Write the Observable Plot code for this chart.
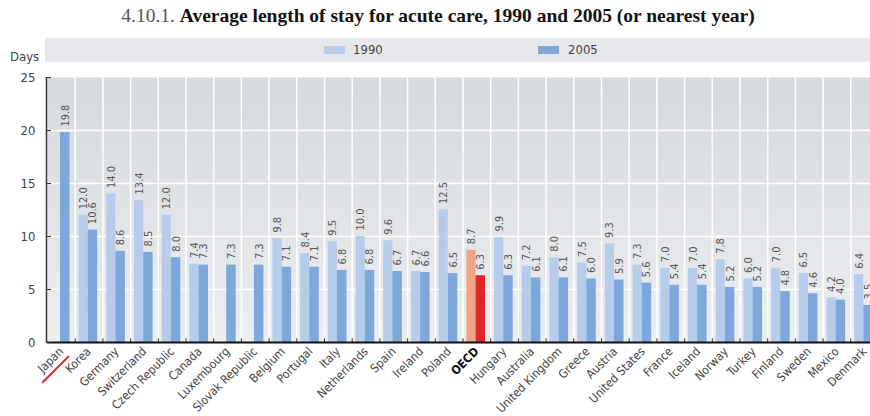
<!DOCTYPE html>
<html><head><meta charset="utf-8">
<script src="https://cdn.jsdelivr.net/npm/d3@7"></script>
<script src="https://cdn.jsdelivr.net/npm/@observablehq/plot@0.6"></script>
<style>
html,body{margin:0;padding:0;background:#fff;overflow:hidden;width:870px;height:416px;}
#wrap{position:relative;width:870px;height:416px;overflow:hidden;}
#title{position:absolute;left:0;width:876px;top:5px;text-align:center;font-family:"Liberation Serif",serif;font-size:19.5px;color:#111;white-space:nowrap;}
#title .num{font-weight:normal;color:#555;}
#title b{font-weight:bold;}
#legend{position:absolute;left:45px;top:38px;width:830px;height:24px;background:#e6e8eb;}
.sw{position:absolute;top:8px;width:21px;height:8px;}
.lt{position:absolute;top:4px;font-family:"DejaVu Sans",sans-serif;font-stretch:condensed;font-size:13px;color:#444;}
#days{position:absolute;left:10px;top:49px;font-family:"DejaVu Sans",sans-serif;font-stretch:condensed;font-size:13px;color:#444;}
#chart{position:absolute;left:0;top:62px;width:880px;}
#chart svg{max-width:none !important;}
#chart svg text{font-stretch:condensed;}
</style>
</head><body>
<div id="wrap">
  <div id="title"><span class="num">4.10.1.</span> <b>Average length of stay for acute care, 1990 and 2005 (or nearest year)</b></div>
  <div id="days">Days</div>
  <div id="legend"></div>
  <div id="chart"></div>
</div>
<script>
const countries = ["Japan","Korea","Germany","Switzerland","Czech Republic","Canada","Luxembourg","Slovak Republic","Belgium","Portugal","Italy","Netherlands","Spain","Ireland","Poland","OECD","Hungary","Australia","United Kingdom","Greece","Austria","United States","France","Iceland","Norway","Turkey","Finland","Sweden","Mexico","Denmark"];
const v1990 = [null,12.0,14.0,13.4,12.0,7.4,null,null,9.8,8.4,9.5,10.0,9.6,6.7,12.5,8.7,9.9,7.2,8.0,7.5,9.3,7.3,7.0,7.0,7.8,6.0,7.0,6.5,4.2,6.4];
const v2005 = [19.8,10.6,8.6,8.5,8.0,7.3,7.3,7.3,7.1,7.1,6.8,6.8,6.7,6.6,6.5,6.3,6.3,6.1,6.1,6.0,5.9,5.6,5.4,5.4,5.2,5.2,4.8,4.6,4.0,3.5];
const years = ["1990","2005"];
const yTicks = [0,5,10,15,20,25];
const colors = {"1990":"#b5cdea","2005":"#7ea8db"};
const oecdColors = {"1990":"#f0a386","2005":"#e0262b"};

const rows = [];
countries.forEach((c,i)=>{
  if (v1990[i] != null) rows.push({country:c, year:"1990", value:v1990[i]});
  if (v2005[i] != null) rows.push({country:c, year:"2005", value:v2005[i]});
});
const r1990 = rows.filter(d=>d.year==="1990");
const r2005 = rows.filter(d=>d.year==="2005");
const fillOf = d => d.country==="OECD" ? oecdColors[d.year] : colors[d.year];

// legend
const leg = document.getElementById("legend");
[[279,"1990",308],[493,"2005",523]].forEach(([x,y,tx])=>{
  const s=document.createElement("div"); s.className="sw"; s.style.left=x+"px"; s.style.background=colors[y]; leg.appendChild(s);
  const t=document.createElement("div"); t.className="lt"; t.style.left=tx+"px"; t.textContent=y; leg.appendChild(t);
});

const W = 878, ML = 47;
const bw = (W - ML) / countries.length;
const in1990 = [3.8, bw - 13];
const in2005 = [13, bw - 22.5];
const c1990 = (in1990[0] + (bw - in1990[1]))/2 - bw/2;
const c2005 = (in2005[0] + (bw - in2005[1]))/2 - bw/2;
const font = "'DejaVu Sans',sans-serif";

const chart = Plot.plot({
  width: W, height: 354,
  marginLeft: ML, marginRight: 0, marginTop: 15, marginBottom: 74,
  style: {fontFamily: font, background: "transparent", maxWidth: "none"},
  x: {domain: countries, padding: 0, round: false, axis: null},
  y: {domain: [0,25], axis: null},
  marks: [
    Plot.frame({fill: "url(#bggrad)", stroke: "none"}),
    Plot.gridY(yTicks.filter(t=>t>0 && t<25), {stroke:"#fff", strokeOpacity:1, strokeWidth:1.5}),
    Plot.ruleX(countries.slice(1), {x: d=>d, y1:0, y2:25, dx: -bw/2, stroke:"#fff", strokeWidth:1.5}),
    Plot.barY(r1990, {x:"country", y:"value", fill: fillOf, insetLeft: in1990[0], insetRight: in1990[1]}),
    Plot.barY(r2005, {x:"country", y:"value", fill: fillOf, insetLeft: in2005[0], insetRight: in2005[1]}),
    Plot.text(r1990, {x:"country", y:"value", text: d=>d.value.toFixed(1), rotate:-90, textAnchor:"start", lineAnchor:"middle", dx: c1990, dy:-6, fontSize:11, fill:"#555"}),
    Plot.text(r2005, {x:"country", y:"value", text: d=>d.value.toFixed(1), rotate:-90, textAnchor:"start", lineAnchor:"middle", dx: c2005, dy:-6, fontSize:11, fill:"#555"}),
    Plot.ruleX(countries.slice(1), {x: d=>d, y1:0, y2:0.35, dx: -bw/2, stroke:"#333", strokeWidth:1}),
    Plot.ruleX([countries[0]], {x: d=>d, y1:0, y2:25, dx: -bw/2 - 1, stroke:"#333", strokeWidth:1.5}),
    Plot.ruleY([0], {stroke:"#111", strokeWidth:2}),
    Plot.axisY(yTicks, {anchor:"left", tickSize:5, dx:4, tickPadding:11, fontSize:13, fill:"#444", stroke:"#333", label:null}),
    Plot.axisX({tickRotate:-45, tickSize:0, tickPadding:7, fontSize:12, fill:"#444", label:null})
  ]
});

// gradient background
const svg = d3.select(chart);
const defs = svg.insert("defs", ":first-child");
const g = defs.append("linearGradient").attr("id","bggrad").attr("x1",0).attr("y1",0).attr("x2",0).attr("y2",1);
g.append("stop").attr("offset","0%").attr("stop-color","#d6d9dd");
g.append("stop").attr("offset","100%").attr("stop-color","#eceef0");

// emphasize OECD label, underline Japan
svg.selectAll("text").each(function(){
  const t = d3.select(this);
  if (t.text()==="OECD") t.attr("font-weight","bold").attr("fill","#111");
  if (t.text()==="Japan") {
    d3.select(this.parentNode).append("line")
      .attr("transform", t.attr("transform"))
      .attr("x1",-37).attr("x2",1).attr("y1",10).attr("y2",10)
      .attr("stroke","#e0262b").attr("stroke-width",2);
  }
});
document.getElementById("chart").appendChild(chart);
</script>
</body></html>
